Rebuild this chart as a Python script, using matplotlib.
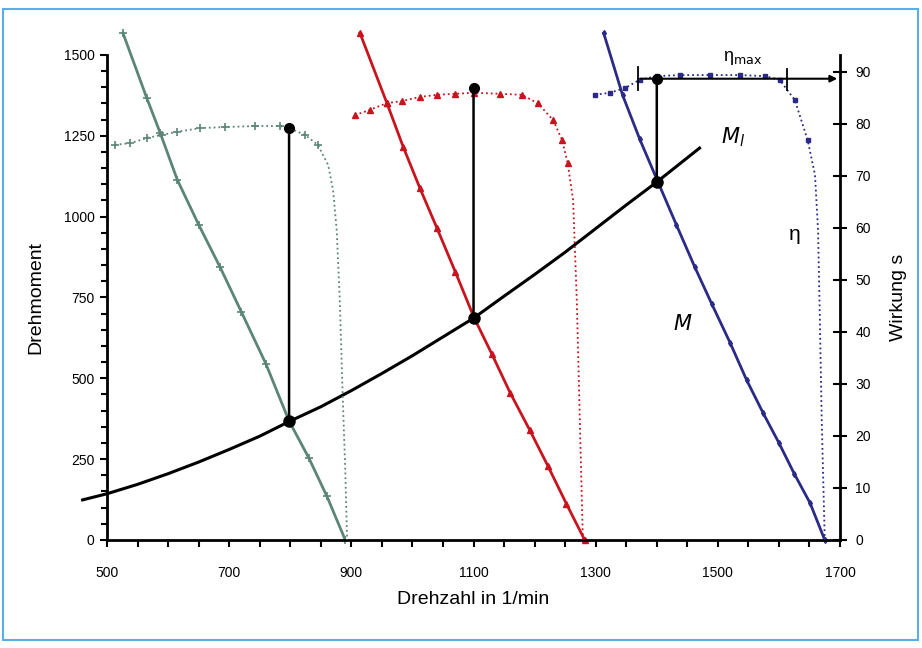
import matplotlib.pyplot as plt
from matplotlib.patches import Rectangle, ConnectionPatch

plt.rcParams['font.family'] = ['Liberation Sans', 'DejaVu Sans']

# Drehmoment-Kennlinien M(n) der drei Antriebe
n_green = [526, 565, 587, 615, 650, 685, 720, 760, 798, 830, 860, 890]
m_green = [1568, 1367, 1259, 1114, 975, 844, 705, 545, 368, 255, 135, 0]
n_red = [914, 958, 985, 1012, 1040, 1070, 1101, 1130, 1160, 1192, 1222, 1252, 1282]
m_red = [1568, 1352, 1215, 1089, 965, 830, 687, 575, 455, 340, 228, 112, 0]
n_blue = [1313, 1344, 1372, 1402, 1432, 1462, 1490, 1520, 1547, 1574, 1600, 1625, 1651, 1675]
m_blue = [1568, 1376, 1240, 1107, 975, 845, 730, 610, 495, 393, 300, 205, 114, 0]

# Lastkennlinie M_l
n_load = [460, 500, 550, 600, 650, 700, 750, 800, 850, 900, 950, 1000, 1050, 1100,
          1150, 1200, 1250, 1300, 1350, 1400, 1470]
m_load = [124, 143, 172, 205, 241, 280, 321, 368, 412, 462, 515, 570, 628, 686,
          754, 821, 890, 963, 1036, 1107, 1212]

# Wirkungsgrad eta(n)
n_eta_green = [513, 538, 565, 590, 615, 652, 693, 742, 783, 798, 824, 845, 862, 870, 876, 881, 886, 890, 893]
eta_green = [76.0, 76.3, 77.3, 77.9, 78.5, 79.2, 79.4, 79.6, 79.6, 79.2, 77.9, 76.0, 72.1, 67.3, 59.6, 46.2, 26.9, 13.5, 0]
n_eta_red = [906, 930, 958, 983, 1012, 1040, 1070, 1101, 1143, 1179, 1205, 1230, 1245, 1254, 1263, 1269, 1274, 1279]
eta_red = [81.7, 82.7, 84.0, 84.4, 85.2, 85.6, 85.8, 86.0, 85.8, 85.6, 84.0, 80.8, 76.9, 72.5, 65.4, 46.2, 23.1, 0]
n_eta_blue = [1299, 1323, 1348, 1372, 1400, 1438, 1487, 1536, 1577, 1601, 1626, 1647, 1659, 1664, 1667, 1670, 1675]
eta_blue = [85.6, 86.0, 86.9, 88.5, 89.2, 89.4, 89.4, 89.4, 89.2, 88.5, 84.6, 76.9, 70.2, 59.6, 42.3, 23.1, 0]

# Arbeitspunkte (Drehzahl, Lastmoment, Wirkungsgrad)
n_op = [798, 1100, 1400]
m_op = [368, 687, 1107]
eta_op = [79.2, 86.9, 88.7]

green = '#5b8577'
red = '#c8141e'
blue = '#2b2a86'

fig = plt.figure(figsize=(9.22, 6.48), dpi=100)
fig.patches.append(Rectangle((3 / 922, 8 / 648), 915 / 922, 631 / 648, transform=fig.transFigure,
                             fill=False, edgecolor='#5aaee6', lw=1.5))

ax = fig.add_axes([0.1161, 0.1667, 0.795, 0.7485])
ax2 = ax.twinx()

ax.plot(n_green, m_green, color=green, lw=2, marker='+', ms=6, mew=1.2, clip_on=False)
ax.plot(n_red, m_red, color=red, lw=2, marker='^', ms=5, clip_on=False)
ax.plot(n_blue, m_blue, color=blue, lw=2, marker='d', ms=3, clip_on=False)
ax.plot(n_load, m_load, color='black', lw=2.2, clip_on=False)
ax.plot(n_op, m_op, 'o', color='black', ms=8, clip_on=False, zorder=5)

ax2.plot(n_eta_green, eta_green, ':', color=green, lw=1.3, marker='+', ms=6, mew=1.2,
         markevery=list(range(12)))
ax2.plot(n_eta_red, eta_red, ':', color=red, lw=1.3, marker='^', ms=5,
         markevery=list(range(14)))
ax2.plot(n_eta_blue, eta_blue, ':', color=blue, lw=1.3, marker='s', ms=3,
         markevery=list(range(12)))
ax2.plot(n_op, eta_op, 'o', color='black', ms=7, zorder=5)

for n, m, e in zip(n_op, m_op, eta_op):
    con = ConnectionPatch(xyA=(n, m), coordsA=ax.transData, xyB=(n, e), coordsB=ax2.transData,
                          color='black', lw=1.8)
    fig.add_artist(con)

# eta_max Markierung
ax2.annotate('', xy=(1700, 88.7), xytext=(1369, 88.7),
             arrowprops=dict(arrowstyle='-|>', color='black', lw=1.5), annotation_clip=False)
ax2.plot([1369, 1369], [86.5, 91], color='black', lw=1.3)
ax2.plot([1613, 1613], [86.5, 90.5], color='black', lw=1.3)
ax2.text(1540, 92.7, 'η$_{\\rm max}$', fontsize=13, ha='center', va='center')

ax.text(1525, 1246, '$M_l$', fontsize=15, ha='center', va='center')
ax.text(1443, 668, '$M$', fontsize=15, ha='center', va='center')
ax2.text(1626, 58.7, 'η', fontsize=15, ha='center', va='center')

ax.set_xlim(500, 1700)
ax.set_ylim(0, 1500)
ax2.set_ylim(0, 93.27)
ax.set_xticks(range(500, 1701, 200))
ax.set_xticks(range(500, 1701, 50), minor=True)
ax.set_yticks(range(0, 1501, 250))
ax.set_yticks(range(0, 1501, 50), minor=True)
ax2.set_yticks(range(0, 91, 10))

ax.spines['top'].set_visible(False)
ax.spines['right'].set_visible(False)
ax.spines['left'].set_linewidth(2)
ax.spines['bottom'].set_linewidth(2)
for s in ['top', 'left', 'bottom']:
    ax2.spines[s].set_visible(False)
ax2.spines['right'].set_linewidth(2)

ax.tick_params(axis='x', which='major', length=5, width=1.5, pad=14, labelsize=10)
ax.tick_params(axis='x', which='minor', length=5, width=1.5)
ax.tick_params(axis='y', which='major', length=5, width=1.5, pad=4, labelsize=10)
ax.tick_params(axis='y', which='minor', length=4, width=1.5)
ax2.tick_params(axis='y', direction='inout', length=10, width=1.5, pad=6, labelsize=10)

ax.set_xlabel('Drehzahl in 1/min', fontsize=14, labelpad=8)
ax.set_ylabel('Drehmoment', fontsize=14, labelpad=14)
ax2.set_ylabel('Wirkung s', fontsize=14, labelpad=14)

fig.savefig('out.png', dpi=100)
